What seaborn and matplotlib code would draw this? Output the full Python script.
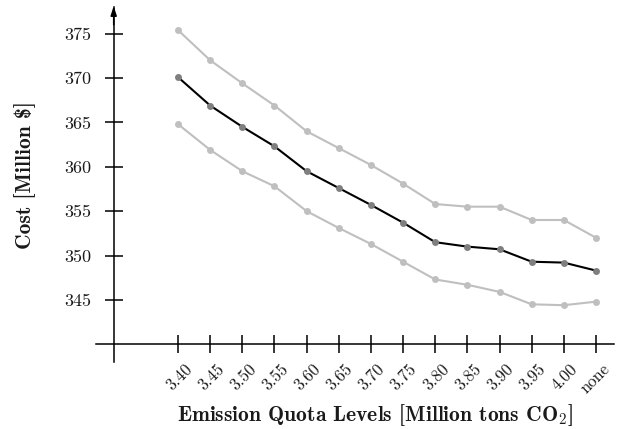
import os
import numpy as np
import pandas as pd
import matplotlib
matplotlib.use("Agg")
import matplotlib.pyplot as plt
import matplotlib.transforms as mtransforms
from matplotlib.font_manager import FontProperties
import seaborn as sns

# ---- data ----
quota_labels = ["3.40", "3.45", "3.50", "3.55", "3.60", "3.65", "3.70",
                "3.75", "3.80", "3.85", "3.90", "3.95", "4.00", "none"]
upper_cost = [375.4, 372.0, 369.4, 366.9, 364.0, 362.1, 360.2,
              358.1, 355.8, 355.5, 355.5, 354.0, 354.0, 352.0]
mean_cost = [370.1, 366.9, 364.5, 362.3, 359.5, 357.6, 355.7,
             353.7, 351.5, 351.0, 350.7, 349.3, 349.2, 348.3]
lower_cost = [364.8, 361.9, 359.5, 357.8, 355.0, 353.1, 351.3,
              349.3, 347.3, 346.7, 345.9, 344.5, 344.4, 344.8]
y_ticks = [345, 350, 355, 360, 365, 370, 375]

sns.set_style("white")
plt.rcParams["font.family"] = ["cmr10", "DejaVu Serif"]
plt.rcParams["mathtext.fontset"] = "cm"
plt.rcParams["axes.unicode_minus"] = False

ttf_dir = os.path.join(matplotlib.get_data_path(), "fonts", "ttf")
ytick_fp = FontProperties(fname=os.path.join(ttf_dir, "cmr10.ttf"), size=13)
xtick_fp = FontProperties(fname=os.path.join(ttf_dir, "cmr10.ttf"), size=12)
label_fp = FontProperties(fname=os.path.join(ttf_dir, "cmb10.ttf"), size=15.5)

fig = plt.figure(figsize=(6.28, 4.29), dpi=100)
W, H = 628, 429
x0, x1, ytop, ybot = 96, 614, 7, 362
ax = fig.add_axes([x0 / W, (H - ybot) / H, (x1 - x0) / W, (ybot - ytop) / H])

idx = np.arange(len(quota_labels))
light = "#bfbfbf"
dark_marker = "#7f7f7f"

for vals, lc, mc, z in [(upper_cost, light, light, 2),
                        (lower_cost, light, light, 2),
                        (mean_cost, "black", dark_marker, 3)]:
    df = pd.DataFrame({"q": idx, "cost": vals})
    sns.lineplot(data=df, x="q", y="cost", ax=ax, color=lc, lw=1.5,
                 marker="o", markersize=5, markerfacecolor=mc,
                 markeredgecolor=mc, markeredgewidth=0, zorder=z)

ax.set_xlim(-2.55, 13.56)
ax.set_ylim(338, 378)

for s in ["top", "right"]:
    ax.spines[s].set_visible(False)
ax.spines["bottom"].set_position(("data", 340))
ax.spines["left"].set_position(("data", -2))
for s in ["bottom", "left"]:
    ax.spines[s].set_linewidth(1.1)
    ax.spines[s].set_color("black")

ax.annotate("", xy=(-2, 378.1), xytext=(-2, 376.0),
            arrowprops=dict(arrowstyle="-|>,head_width=0.18,head_length=0.55",
                            lw=1.1, color="black", shrinkA=0, shrinkB=0),
            annotation_clip=False)

ax.set_yticks(y_ticks)
ax.set_yticklabels([str(v) for v in y_ticks], fontproperties=ytick_fp)
ax.set_xticks(idx)
ax.set_xticklabels(quota_labels, rotation=45, ha="right", va="top",
                   rotation_mode="anchor", fontproperties=xtick_fp)
ax.tick_params(axis="both", direction="inout", length=13.5, width=1.1,
               color="black", labelcolor="#1a1a1a")
ax.tick_params(axis="y", pad=9.5)
ax.tick_params(axis="x", pad=5.5)
ax.tick_params(left=True, bottom=True)

offset = mtransforms.ScaledTranslation(6 / 100, 0, fig.dpi_scale_trans)
for lab in ax.get_xticklabels():
    lab.set_transform(lab.get_transform() + offset)

ax.set_xlabel("Emission Quota Levels [Million tons CO$_\\mathbf{2}$]",
              fontproperties=label_fp, color="#1a1a1a", va="center", ha="center")
ax.xaxis.set_label_coords((375 - x0) / (x1 - x0), (ybot - 415) / (ybot - ytop))
ax.set_ylabel("Cost [Million $]", fontproperties=label_fp, color="#1a1a1a",
              va="center", ha="center")
ax.yaxis.set_label_coords((25 - x0) / (x1 - x0), (ybot - 175) / (ybot - ytop))

ax.grid(False)
fig.savefig("out.png", dpi=100)
